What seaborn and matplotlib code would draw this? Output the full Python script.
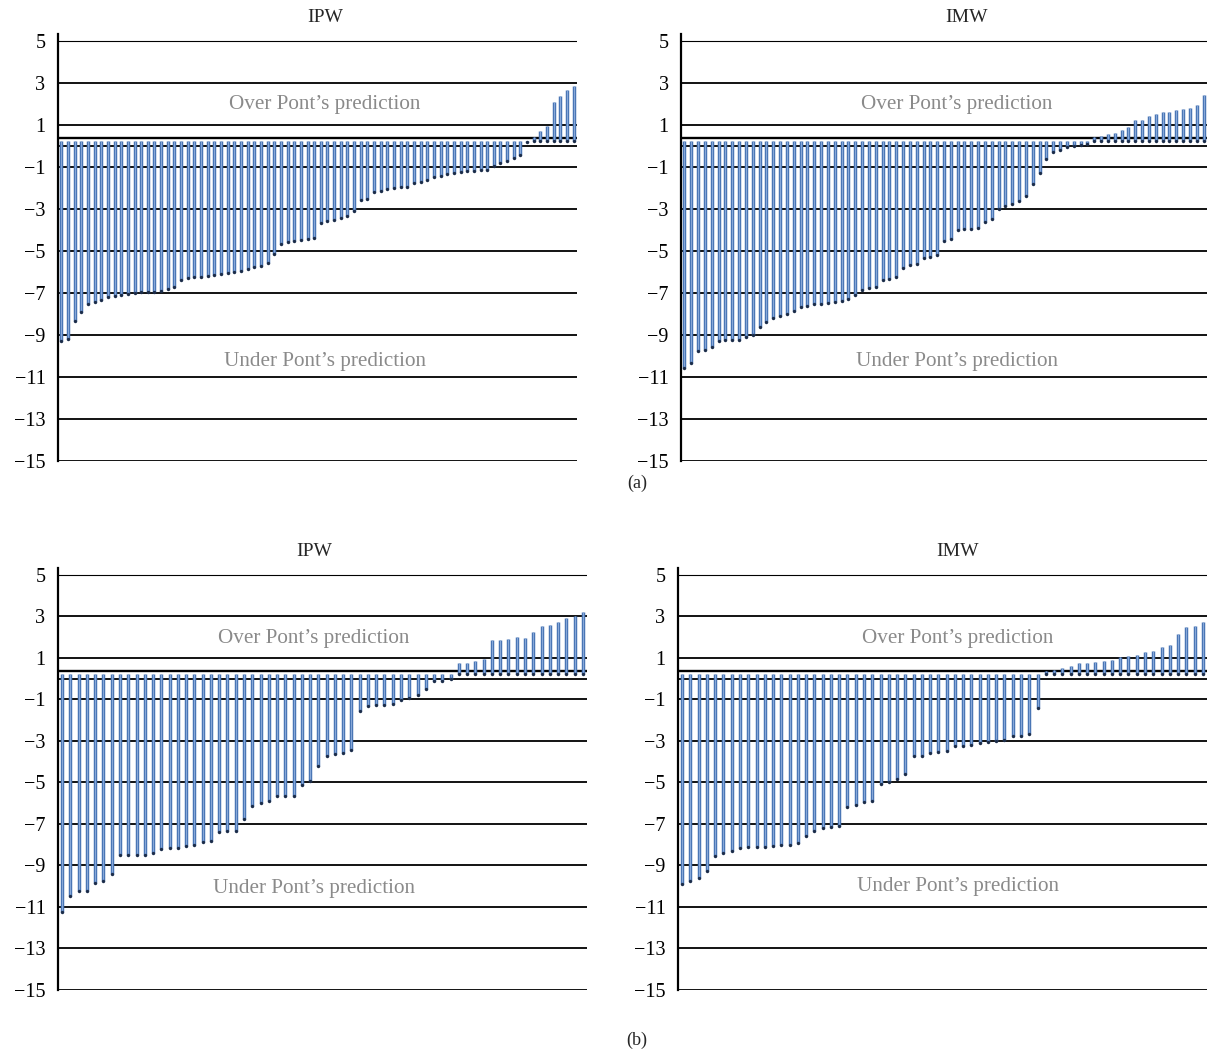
import numpy as np
import pandas as pd
import seaborn as sns
import matplotlib
matplotlib.use("Agg")
import matplotlib.pyplot as plt

# values (sorted differences from Pont's prediction)
ipw_a = [-9.27, -9.19, -8.32, -7.92, -7.52, -7.44, -7.32, -7.2, -7.13, -7.08,
         -7.05, -7.0, -6.97, -6.97, -6.94, -6.89, -6.81, -6.73, -6.37, -6.3,
         -6.25, -6.22, -6.17, -6.14, -6.1, -6.05, -6.02, -5.94, -5.86, -5.78,
         -5.7, -5.57, -5.14, -4.67, -4.59, -4.54, -4.46, -4.43, -4.4, -3.67,
         -3.56, -3.51, -3.44, -3.32, -3.08, -2.56, -2.52, -2.21, -2.13, -2.05,
         -2.0, -1.97, -1.94, -1.76, -1.7, -1.62, -1.49, -1.41, -1.35, -1.3,
         -1.25, -1.21, -1.17, -1.16, -1.13, -0.94, -0.81, -0.7, -0.57, -0.43,
         0.2, 0.45, 0.73, 0.94, 2.11, 2.4, 2.68, 2.87]
imw_a = [-10.56, -10.33, -9.76, -9.73, -9.57, -9.3, -9.25, -9.25, -9.25, -9.1,
         -9.02, -8.62, -8.38, -8.17, -8.08, -7.98, -7.86, -7.67, -7.63, -7.54,
         -7.51, -7.46, -7.43, -7.38, -7.27, -7.11, -6.87, -6.75, -6.71, -6.4,
         -6.32, -6.24, -5.79, -5.68, -5.63, -5.33, -5.29, -5.17, -4.54, -4.41,
         -4.02, -3.97, -3.94, -3.89, -3.62, -3.46, -2.98, -2.87, -2.78, -2.63,
         -2.4, -1.79, -1.29, -0.6, -0.29, -0.21, -0.05, 0.0, 0.03, 0.08,
         0.43, 0.46, 0.59, 0.63, 0.78, 0.9, 1.22, 1.22, 1.43, 1.54,
         1.62, 1.62, 1.73, 1.75, 1.83, 1.97, 2.41]
ipw_b = [-11.25, -10.48, -10.24, -10.24, -9.84, -9.73, -9.39, -8.51, -8.51, -8.51,
         -8.51, -8.4, -8.2, -8.16, -8.16, -8.08, -8.0, -7.85, -7.83, -7.4,
         -7.35, -7.35, -6.76, -6.12, -5.99, -5.88, -5.67, -5.67, -5.67, -5.11,
         -4.95, -4.22, -3.74, -3.63, -3.58, -3.42, -1.54, -1.33, -1.29, -1.29,
         -1.2, -1.01, -0.93, -0.8, -0.5, -0.13, -0.13, -0.02, 0.75, 0.75,
         0.83, 0.95, 1.88, 1.88, 1.92, 1.99, 1.96, 2.25, 2.52, 2.6,
         2.71, 2.92, 3.03, 3.21]
imw_b = [-9.89, -9.76, -9.6, -9.25, -8.54, -8.41, -8.28, -8.16, -8.12, -8.12,
         -8.12, -8.04, -8.01, -8.01, -7.93, -7.56, -7.32, -7.21, -7.16, -7.08,
         -6.17, -6.07, -5.96, -5.88, -5.07, -4.99, -4.83, -4.59, -3.71, -3.71,
         -3.6, -3.55, -3.5, -3.26, -3.23, -3.18, -3.12, -3.07, -2.99, -2.96,
         -2.75, -2.75, -2.67, -1.41, 0.38, 0.43, 0.51, 0.62, 0.74, 0.74,
         0.82, 0.87, 0.91, 1.03, 1.11, 1.14, 1.31, 1.35, 1.54, 1.64,
         2.15, 2.5, 2.55, 2.71]

base = 0.25          # where the bars start
pont_line = 0.38     # reference line drawn across the panel
yticks = list(range(-15, 6, 2))
over_label = "Over Pont\u2019s prediction"
under_label = "Under Pont\u2019s prediction"

W, H = 1207, 1057
sns.set_theme(style="white")
plt.rcParams['font.family'] = ['Liberation Serif', 'DejaVu Serif']
plt.rcParams['axes.unicode_minus'] = True

fig = plt.figure(figsize=(W / 100, H / 100), dpi=100)


def px_box(left, right, top, bottom):
    return [left / W, 1 - bottom / H, (right - left) / W, (bottom - top) / H]


def draw_panel(box, values):
    ax = fig.add_axes(box)
    df = pd.DataFrame({"idx": np.arange(len(values)), "val": values})
    df["low"] = np.minimum(df["val"], base)
    for y in yticks:
        ax.axhline(y, color="black", lw=0.8 if y == 5 else 1.3, zorder=1)
    ax.axhline(0, color="black", lw=1.3, zorder=1)
    ax.axhline(pont_line, color="black", lw=1.7, zorder=1)
    ax.vlines(df["idx"], base, df["val"], color="#4a76b5", lw=2.5, zorder=2)
    ax.vlines(df["idx"], base, df["val"], color="#89aadb", lw=0.7, zorder=3)
    sns.scatterplot(data=df, x="idx", y="low", ax=ax, color="#1c2d4a", s=6,
                    linewidth=0, zorder=4, legend=False)
    ax.set_xlim(-0.5, len(values) - 0.5)
    ax.set_ylim(-15, 5.35)
    ax.set_yticks(yticks)
    ax.set_yticklabels([str(t).replace("-", "\u2212") for t in yticks])
    ax.set_xticks([])
    ax.set_xlabel("")
    ax.set_ylabel("")
    ax.tick_params(axis="y", length=0, pad=9, labelsize=14.5, colors="black")
    for s in ["top", "right", "bottom"]:
        ax.spines[s].set_visible(False)
    ax.spines["left"].set_color("black")
    ax.spines["left"].set_linewidth(1.6)
    ax.set_facecolor("white")
    return ax


draw_panel(px_box(58, 577, 33.6, 461), ipw_a)
draw_panel(px_box(681, 1207, 33.6, 461), imw_a)
draw_panel(px_box(58, 587, 567.7, 990), ipw_b)
draw_panel(px_box(678, 1207, 567.7, 990), imw_b)


def ftext(x, y, s, **kw):
    fig.text(x / W, 1 - y / H, s, ha="center", va="center", **kw)


ftext(325, 18, "IPW", fontsize=14)
ftext(967, 18, "IMW", fontsize=14)
ftext(314, 551, "IPW", fontsize=14)
ftext(958, 551, "IMW", fontsize=14)
ftext(637, 483, "(a)", fontsize=13)
ftext(637, 1040, "(b)", fontsize=13)

gray = "#8a8a8a"
ftext(325, 105, over_label, fontsize=15.2, color=gray)
ftext(325, 361, under_label, fontsize=15.2, color=gray)
ftext(957, 105, over_label, fontsize=15.2, color=gray)
ftext(957, 361, under_label, fontsize=15.2, color=gray)
ftext(314, 638, over_label, fontsize=15.2, color=gray)
ftext(314, 889, under_label, fontsize=15.2, color=gray)
ftext(958, 638, over_label, fontsize=15.2, color=gray)
ftext(958, 886, under_label, fontsize=15.2, color=gray)

fig.savefig("out.png", dpi=100, facecolor="white")
